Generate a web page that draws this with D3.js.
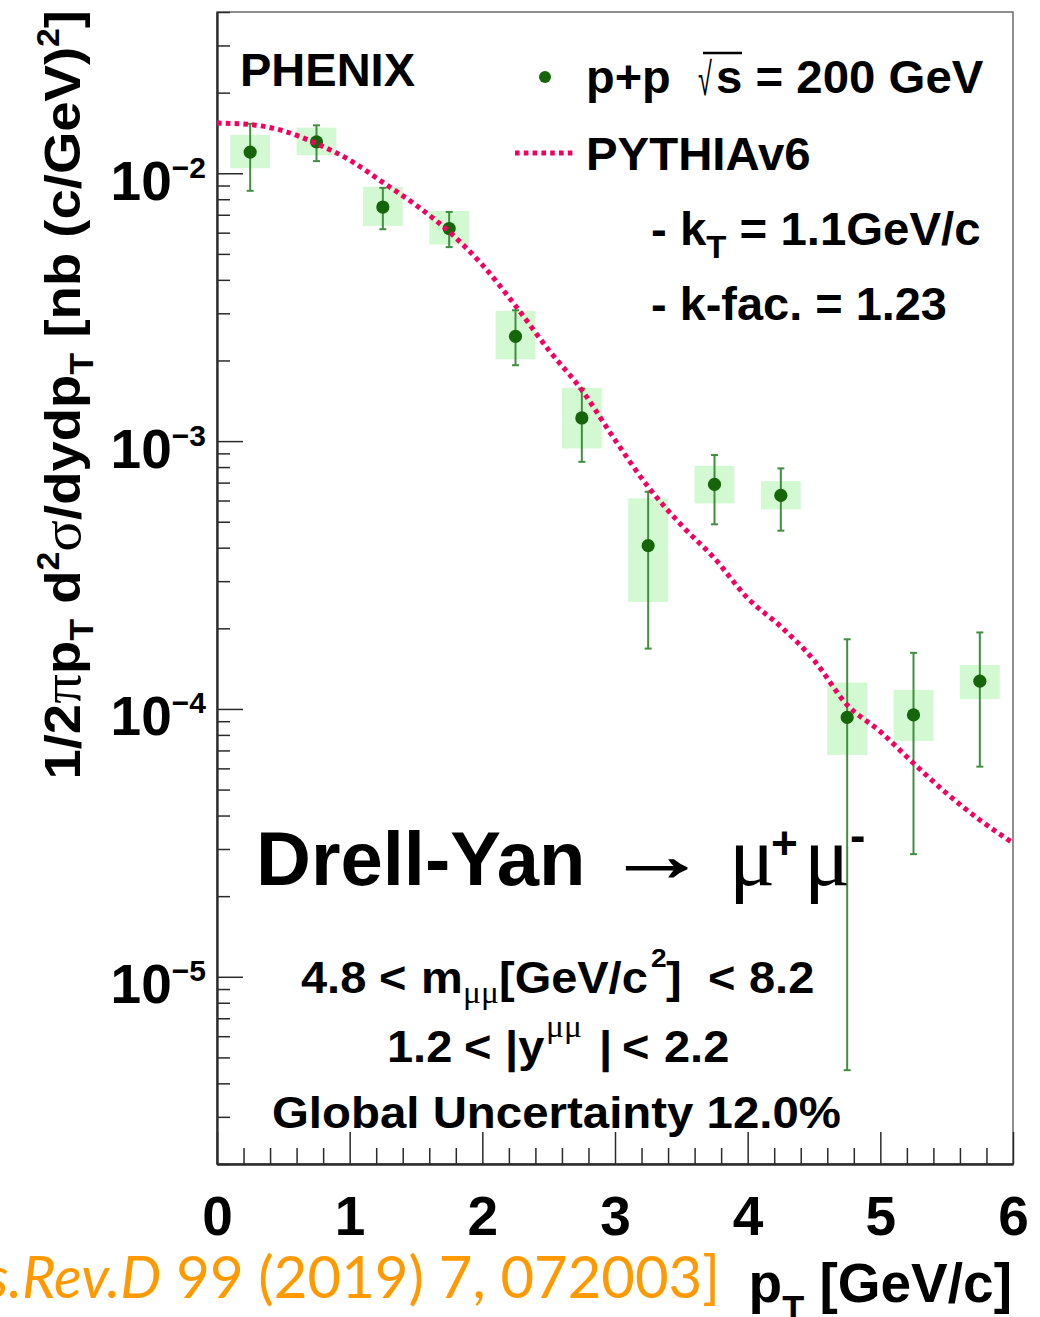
<!DOCTYPE html>
<html>
<head>
<meta charset="utf-8">
<script src="https://cdn.jsdelivr.net/npm/d3@7"></script>
<style>
  html, body { margin: 0; padding: 0; background: #ffffff; }
  svg { display: block; }
  text { white-space: pre; }
</style>
</head>
<body>
<svg id="chart" width="1040" height="1317"></svg>
<script>
// Drell-Yan -> mu+ mu- invariant yield vs pT, p+p at sqrt(s) = 200 GeV,
// compared with a PYTHIA6 calculation.

// ---- data -------------------------------------------------------------
const ptBins      = [0.25, 0.75, 1.25, 1.75, 2.25, 2.75, 3.25, 3.75, 4.25, 4.75, 5.25, 5.75];
const sysHalfWidth = 0.15;   // half width of the systematic boxes, GeV/c
const yieldVals   = [1.20e-2, 1.31e-2, 7.48e-3, 6.22e-3, 2.46e-3, 1.22e-3, 4.07e-4, 6.89e-4, 6.27e-4, 9.3e-5, 9.5e-5, 1.27e-4];
const statLow     = [8.6e-3, 1.11e-2, 6.18e-3, 5.30e-3, 1.92e-3, 8.37e-4, 1.68e-4, 4.89e-4, 4.63e-4, 4.48e-6, 2.87e-5, 6.09e-5];
const statHigh    = [1.53e-2, 1.51e-2, 8.82e-3, 7.17e-3, 3.08e-3, 1.57e-3, 6.47e-4, 8.87e-4, 7.91e-4, 1.82e-4, 1.62e-4, 1.93e-4];
const sysLow      = [1.044e-2, 1.167e-2, 6.36e-3, 5.42e-3, 2.02e-3, 9.39e-4, 2.51e-4, 5.85e-4, 5.56e-4, 6.74e-5, 7.6e-5, 1.087e-4];
const sysHigh     = [1.39e-2, 1.48e-2, 8.90e-3, 7.23e-3, 3.06e-3, 1.58e-3, 6.11e-4, 8.09e-4, 7.09e-4, 1.254e-4, 1.178e-4, 1.46e-4];

const pythiaPt    = [0, 0.25, 0.5, 0.75, 1.0, 1.25, 1.5, 1.75, 2.0, 2.25, 2.5, 2.75, 3.0,
                     3.25, 3.5, 3.75, 4.0, 4.25, 4.5, 4.75, 5.0, 5.25, 5.5, 5.75, 6.0];
const pythiaVals  = [1.54e-2, 1.52e-2, 1.44e-2, 1.29e-2, 1.12e-2, 9.25e-3, 7.6e-3, 6.05e-3, 4.55e-3, 3.2e-3,
                     2.19e-3, 1.55e-3, 1.01e-3, 6.75e-4, 4.86e-4, 3.65e-4, 2.59e-4, 2.03e-4, 1.52e-4,
                     1.035e-4, 8.23e-5, 6.27e-5, 4.84e-5, 3.85e-5, 3.16e-5];

const xTickVals   = [0, 1, 2, 3, 4, 5, 6];
const yDecades    = [1e-5, 1e-4, 1e-3, 1e-2];
const yDecadeExp  = ["\u22125", "\u22124", "\u22123", "\u22122"];

// ---- styling ----------------------------------------------------------
const SANS  = "'Liberation Sans', Arial, Helvetica, sans-serif";
const SERIF = "'Liberation Serif', 'Times New Roman', serif";
const markerColor = "#17650a";
const errColor    = "#3f8f3f";
const boxColor    = "#d2f9d2";
const curveColor  = "#f5005f";
const citeColor   = "#ff9900";

const svg = d3.select("#chart");
const frame = { left: 217, right: 1013, top: 12, bottom: 1164 };

const x = d3.scaleLinear().domain([0, 6]).range([frame.left, frame.right]);
const y = d3.scaleLog().domain([2e-6, 0.04]).range([frame.bottom, frame.top]);

svg.append("defs").append("clipPath").attr("id", "plotClip")
  .append("rect")
  .attr("x", frame.left).attr("y", frame.top)
  .attr("width", frame.right - frame.left).attr("height", frame.bottom - frame.top);

// frame
svg.append("rect")
  .attr("x", frame.left).attr("y", frame.top)
  .attr("width", frame.right - frame.left).attr("height", frame.bottom - frame.top)
  .attr("fill", "none").attr("stroke", "#6a6a6a").attr("stroke-width", 1.5);

// ---- axes -------------------------------------------------------------
const axisColor = "#2a2a2a";
function styleAxis(g) {
  g.select(".domain").attr("stroke", axisColor).attr("stroke-width", 1.8);
  g.selectAll(".tick line").attr("stroke", axisColor).attr("stroke-width", 1.5);
}

const xMinor = d3.range(0, 6.0001, 0.2).filter(v => Math.abs(v - Math.round(v)) > 1e-6);
svg.append("g")
  .attr("transform", `translate(0,${frame.bottom})`)
  .call(d3.axisBottom(x).tickValues(xMinor).tickSize(-16).tickSizeOuter(0).tickFormat(""))
  .call(styleAxis);

const xAxisG = svg.append("g")
  .attr("transform", `translate(0,${frame.bottom})`)
  .call(d3.axisBottom(x).tickValues(xTickVals).tickSize(-32).tickSizeOuter(0)
        .tickPadding(32).tickFormat(d3.format("d")))
  .call(styleAxis);
xAxisG.selectAll(".tick text")
  .attr("font-family", SANS).attr("font-weight", "bold").attr("font-size", 55)
  .attr("fill", "#000");

const yMinor = y.ticks().filter(v => {
  const m = v / Math.pow(10, Math.floor(Math.log10(v) + 1e-9));
  return Math.abs(m - 1) > 1e-6;
});
svg.append("g")
  .attr("transform", `translate(${frame.left},0)`)
  .call(d3.axisLeft(y).tickValues(yMinor).tickSize(-13).tickSizeOuter(0).tickFormat(""))
  .call(styleAxis);

const yAxisG = svg.append("g")
  .attr("transform", `translate(${frame.left},0)`)
  .call(d3.axisLeft(y).tickValues(yDecades).tickSize(-26).tickSizeOuter(0).tickFormat(""))
  .call(styleAxis);

yAxisG.selectAll(".tick").each(function(d, i) {
  const t = d3.select(this).append("text")
    .attr("x", -11).attr("y", 26)
    .attr("text-anchor", "end")
    .attr("font-family", SANS).attr("font-weight", "bold").attr("fill", "#000");
  t.append("tspan").attr("font-size", 55).text("10");
  t.append("tspan").attr("font-size", 30).attr("dy", -22).text(yDecadeExp[i]);
});

// ---- data marks -------------------------------------------------------
const points = ptBins.map((pt, i) => ({
  pt, v: yieldVals[i], lo: statLow[i], hi: statHigh[i], sLo: sysLow[i], sHi: sysHigh[i]
}));

const plot = svg.append("g").attr("clip-path", "url(#plotClip)");

plot.append("g").selectAll("rect").data(points).join("rect")
  .attr("x", d => x(d.pt - sysHalfWidth))
  .attr("width", d => x(d.pt + sysHalfWidth) - x(d.pt - sysHalfWidth))
  .attr("y", d => y(d.sHi))
  .attr("height", d => y(d.sLo) - y(d.sHi))
  .attr("fill", boxColor);

const errG = plot.append("g").attr("stroke", errColor).attr("stroke-width", 2);
errG.selectAll("line.bar").data(points).join("line").attr("class", "bar")
  .attr("x1", d => x(d.pt)).attr("x2", d => x(d.pt))
  .attr("y1", d => y(d.hi)).attr("y2", d => y(d.lo));
errG.selectAll("line.capHi").data(points).join("line").attr("class", "capHi")
  .attr("x1", d => x(d.pt) - 3.5).attr("x2", d => x(d.pt) + 3.5)
  .attr("y1", d => y(d.hi)).attr("y2", d => y(d.hi));
errG.selectAll("line.capLo").data(points).join("line").attr("class", "capLo")
  .attr("x1", d => x(d.pt) - 3.5).attr("x2", d => x(d.pt) + 3.5)
  .attr("y1", d => y(d.lo)).attr("y2", d => y(d.lo));

plot.append("g").selectAll("circle").data(points).join("circle")
  .attr("cx", d => x(d.pt)).attr("cy", d => y(d.v)).attr("r", 6.6)
  .attr("fill", markerColor);

const pythia = pythiaPt.map((pt, i) => ({ pt, v: pythiaVals[i] }));
const curveDash = "4.6 4.2";
const curveWidth = 5;
plot.append("path")
  .datum(pythia)
  .attr("d", d3.line().x(d => x(d.pt)).y(d => y(d.v)).curve(d3.curveMonotoneX))
  .attr("fill", "none").attr("stroke", curveColor)
  .attr("stroke-width", curveWidth).attr("stroke-dasharray", curveDash);

// ---- text helpers -----------------------------------------------------
// Builds a text line out of tspans; `shift` is the baseline offset of a part,
// `x` an absolute position for it. opts.sx widens the line, opts.rotate turns it.
function rich(g, x0, y0, size, parts, attrs = {}, opts = {}) {
  const sx = opts.sx || 1;
  const rot = opts.rotate ? ` rotate(${opts.rotate})` : "";
  const t = g.append("text")
    .attr("transform", `translate(${x0},${y0})${rot} scale(${sx},1)`)
    .attr("x", 0).attr("y", 0)
    .attr("font-family", SANS).attr("font-weight", "bold")
    .attr("font-size", size).attr("fill", "#000");
  Object.entries(attrs).forEach(([k, v]) => t.attr(k, v));
  let cur = 0;
  parts.forEach(p => {
    const s = p.shift || 0;
    const ts = t.append("tspan").text(p.text);
    if (p.x !== undefined) ts.attr("x", (p.x - x0) / sx);
    if (s - cur !== 0) ts.attr("dy", s - cur);
    cur = s;
    if (p.size) ts.attr("font-size", p.size);
    if (p.family) ts.attr("font-family", p.family);
    if (p.weight) ts.attr("font-weight", p.weight);
    if (p.style) ts.attr("font-style", p.style);
  });
  return t;
}

const txt = svg.append("g");

// experiment label
rich(txt, 240, 86, 47, [{ text: "PHENIX" }]);

// legend
txt.append("circle").attr("cx", 545).attr("cy", 77).attr("r", 6).attr("fill", markerColor);
rich(txt, 586, 93, 46, [{ text: "p+p" }], {}, { sx: 1.02 });
rich(txt, 698, 95, 46, [{ text: "\u221A", weight: "normal" }], {}, { sx: 0.55 });
txt.append("line").attr("x1", 703).attr("x2", 742).attr("y1", 53).attr("y2", 53)
  .attr("stroke", "#000").attr("stroke-width", 2.5);
rich(txt, 716, 93, 46, [{ text: "s = 200 GeV" }], {}, { sx: 1.03 });

txt.append("line").attr("x1", 515).attr("x2", 574).attr("y1", 153).attr("y2", 153)
  .attr("stroke", curveColor).attr("stroke-width", curveWidth).attr("stroke-dasharray", curveDash);
rich(txt, 586, 170, 46, [{ text: "PYTHIAv6" }], {}, { sx: 1.03 });

rich(txt, 651, 245, 46, [
  { text: "- k" },
  { text: "T", size: 32, shift: 13 },
  { text: " = 1.1GeV/c", shift: 0 }
], {}, { sx: 1.03 });
rich(txt, 651, 320, 46, [{ text: "- k-fac. = 1.23" }], {}, { sx: 1.02 });

// process label
rich(txt, 256, 885, 76, [{ text: "Drell-Yan" }]);
rich(txt, 606, 880, 72, [{ text: "\u2192", family: SERIF, weight: "normal" }],
     { stroke: "#000", "stroke-width": 1.4 }, { sx: 1.4 });
rich(txt, 729, 885, 86, [{ text: "\u03BC", family: SERIF, weight: "normal" }]);
rich(txt, 771, 859, 46, [{ text: "+" }]);
rich(txt, 804, 885, 86, [{ text: "\u03BC", family: SERIF, weight: "normal" }]);
rich(txt, 850, 851, 46, [{ text: "-" }]);

// kinematic cuts
rich(txt, 301, 993, 43.5, [
  { text: "4.8", x: 301 },
  { text: "<", x: 379 },
  { text: "m", x: 421 },
  { text: "\u03BC\u03BC", x: 463, size: 31, family: SERIF, weight: "normal", shift: 10 },
  { text: "[GeV/c", x: 499, shift: 0 },
  { text: "2", x: 651, size: 26, shift: -26 },
  { text: "]", x: 666, shift: 0 },
  { text: "<", x: 708 },
  { text: "8.2", x: 749 }
], {}, { sx: 1.08 });
rich(txt, 387, 1062, 43.5, [
  { text: "1.2", x: 387 },
  { text: "<", x: 464 },
  { text: "|y", x: 505 },
  { text: "\u03BC\u03BC", x: 546, size: 31, family: SERIF, weight: "normal", shift: -25 },
  { text: "|", x: 599, shift: 0 },
  { text: "<", x: 622 },
  { text: "2.2", x: 664 }
], {}, { sx: 1.08 });
rich(txt, 272, 1128, 43.5, [{ text: "Global Uncertainty 12.0%" }], {}, { sx: 1.09 });

// axis titles
rich(txt, 1012, 1302, 55, [
  { text: "p" },
  { text: "T", size: 36, shift: 20 },
  { text: " [GeV/c]", shift: 0 }
], { "text-anchor": "end" });

rich(txt, 80, 10, 50, [
  { text: "1/2" },
  { text: "\u03C0", family: SERIF, weight: "normal", size: 54 },
  { text: "p" },
  { text: "T", size: 33, shift: 13 },
  { text: " d", shift: 0 },
  { text: "2", size: 31, shift: -21 },
  { text: "\u03C3", family: SERIF, weight: "normal", size: 54, shift: 0 },
  { text: "/dydp" },
  { text: "T", size: 33, shift: 13 },
  { text: " [nb (c/GeV)", shift: 0 },
  { text: "2", size: 31, shift: -21 },
  { text: "]", shift: 0 }
], { "text-anchor": "end" }, { rotate: -90, sx: 1.09 });

// reference
rich(txt, 720, 1298, 58, [
  { text: "[Phys.Rev.D", style: "italic", weight: "normal" },
  { text: " 99 (2019) 7, 072003]", weight: "normal" }
], { "text-anchor": "end", "font-family": "Lato, 'Open Sans', sans-serif", fill: citeColor });
</script>
</body>
</html>
